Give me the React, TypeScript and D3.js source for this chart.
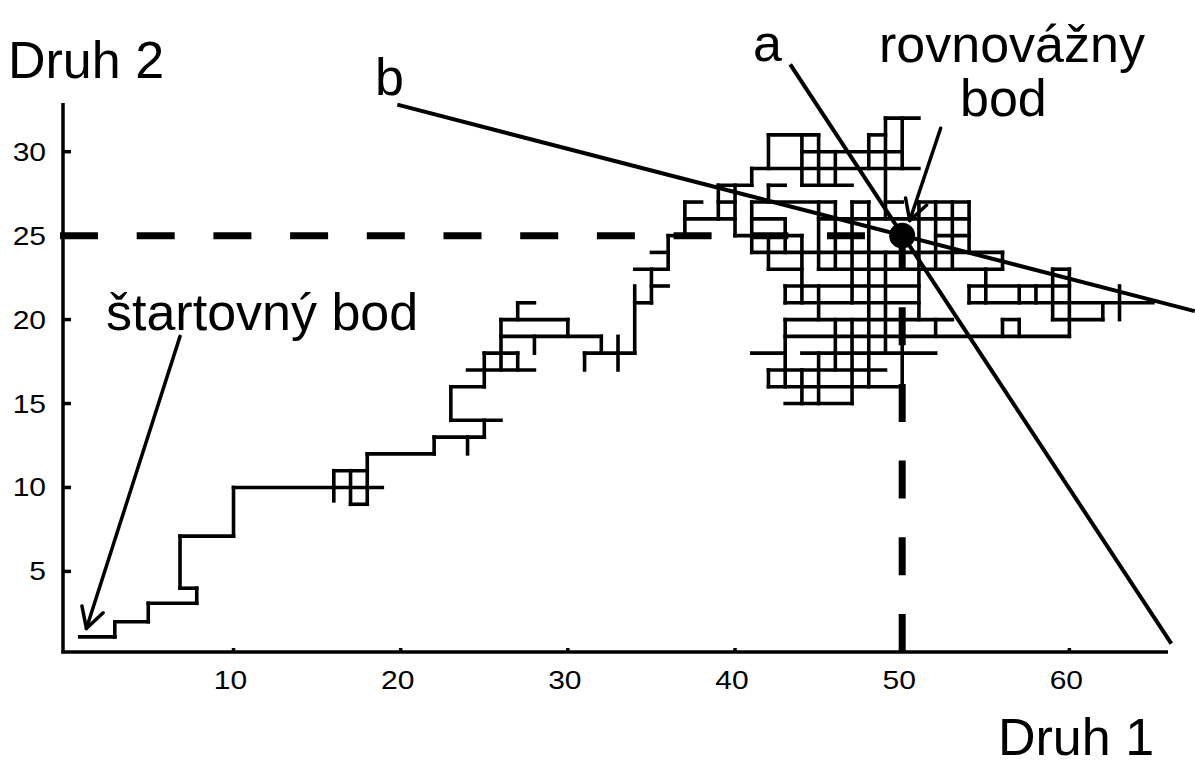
import React from 'react';
import * as d3 from 'd3';

const W = 1195;
const H = 767;

// axis domains (data units)
const xDomain: [number, number] = [-0.2, 65.9];
const yDomain: [number, number] = [0.2, 32.9];
const xTicks = [10, 20, 30, 40, 50, 60];
const yTicks = [5, 10, 15, 20, 25, 30];
const equilibrium: [number, number] = [50, 25];

// random walk: horizontal runs [y, x0, x1]
const walkH: number[][] = [
  [1.1, 0.8, 2.9], [2.0, 2.9, 4.9], [3.1, 4.9, 7.8], [4.0, 6.8, 7.8], [7.1, 6.8, 10],
  [10, 10, 18.9], [11, 16, 18], [9, 17, 18], [12, 18, 22], [13, 22, 25], [14, 23, 26],
  [16, 23, 25], [17, 24, 28], [18, 25, 27], [20, 26, 30], [19, 26, 32], [21, 27, 28],
  [18, 31, 34], [21, 34, 35], [22, 35, 36], [23, 34, 36], [24, 35, 36], [25, 36, 37],
  [26, 37, 40], [27, 37, 38],
  [32, 49, 51],
  [31, 42, 45], [31, 48, 49],
  [30, 44, 50],
  [29, 41, 51],
  [28, 39, 41], [28, 42, 43], [28, 44, 47],
  [27, 39, 40], [27, 41, 46], [27, 47, 48], [27, 49, 50], [27, 51, 54],
  [26, 41, 43], [26, 45, 54],
  [25, 40, 44], [25, 52, 54],
  [24, 41, 56],
  [23, 42, 44], [23, 45, 56], [23, 59, 60],
  [22, 43, 51], [22, 54, 60],
  [21, 43, 51], [21, 54, 65],
  [20, 43, 53], [20, 56, 57], [20, 59, 62],
  [19, 43, 60],
  [18, 41, 43], [18, 44, 52],
  [17, 42, 49],
  [16, 42, 50],
  [15, 43, 47],
];

// random walk: vertical runs [x, y0, y1]
const walkV: number[][] = [
  [2.9, 1.1, 2.0], [4.9, 2.0, 3.1], [7.8, 3.1, 4.0], [6.8, 4.0, 7.1], [10, 7.1, 10],
  [16, 9.2, 11], [17, 9, 11], [18, 9, 12], [22, 12, 13], [24, 12, 13], [25, 13, 14],
  [23, 14, 16], [25, 16, 18], [26, 17, 20], [27, 17, 18], [27, 20, 21], [28, 18, 19],
  [30, 19, 20], [32, 18, 19], [31, 17, 18], [33, 17, 19], [34, 18, 22], [35, 21, 23],
  [36, 23, 25], [37, 25, 27],
  [39, 26, 28], [40, 25, 28],
  [41, 28, 29], [41, 24, 27],
  [42, 29, 31], [42, 27, 28], [42, 23, 25], [42, 16, 17],
  [43, 24, 26], [43, 21, 22], [43, 16, 20],
  [44, 28, 31], [44, 21, 25], [44, 15, 17],
  [45, 28, 31], [45, 23, 27], [45, 20, 22], [45, 15, 18],
  [46, 28, 30], [46, 23, 27], [46, 17, 20],
  [47, 21, 27], [47, 15, 20],
  [48, 29, 31], [48, 16, 27],
  [49, 26, 32], [49, 18, 24],
  [50, 29, 32], [50, 16, 18.5],
  [51, 20, 27],
  [52, 23, 27], [52, 19, 20],
  [53, 23, 27],
  [54, 24, 27], [54, 21, 22],
  [55, 21, 23],
  [56, 23, 24], [56, 19, 20],
  [57, 19, 20], [57, 21, 22],
  [58, 21, 22],
  [59, 20, 23],
  [60, 19, 23],
  [62, 20, 21],
  [63, 20, 22],
];

// isoclines a and b (data endpoints)
const lineA: [number, number][] = [[43.3, 35.2], [66.1, 0.7]];
const lineB: [number, number][] = [[19.8, 32.8], [67.5, 20.5]];
// annotation arrows [from, to]
const startArrow: [number, number][] = [[6.8, 19.0], [1.2, 1.6]];
const eqArrow: [number, number][] = [[52.3, 31.4], [50.45, 25.9]];

const FONT = "'Liberation Sans', Arial, Helvetica, sans-serif";

function BigText({ x, y, children }: { x: number; y: number; children: string }) {
  return (
    <text x={x} y={y} fontFamily={FONT} fontSize={52} fill="#000">
      {children}
    </text>
  );
}

export default function App() {
  const xS = d3.scaleLinear().domain(xDomain).range([63, 1168]);
  const yS = d3.scaleLinear().domain(yDomain).range([652, 103]);

  const arrowHead = (from: [number, number], to: [number, number]) => {
    const x1 = xS(from[0]), y1 = yS(from[1]);
    const x2 = xS(to[0]), y2 = yS(to[1]);
    const ang = Math.atan2(y1 - y2, x1 - x2);
    const L = 23, a = (29 * Math.PI) / 180;
    const p1 = [x2 + L * Math.cos(ang + a), y2 + L * Math.sin(ang + a)];
    const p2 = [x2 + L * Math.cos(ang - a), y2 + L * Math.sin(ang - a)];
    return (
      <g stroke="#000" strokeWidth={3.5} fill="none" strokeLinecap="round" strokeLinejoin="round">
        <line x1={x1} y1={y1} x2={x2} y2={y2} />
        <polyline points={`${p1[0]},${p1[1]} ${x2},${y2} ${p2[0]},${p2[1]}`} />
      </g>
    );
  };

  const lineGen = d3.line<[number, number]>().x((d) => xS(d[0])).y((d) => yS(d[1]));

  return (
    <svg
      width={W}
      height={H}
      style={{ position: 'absolute', left: 0, top: 0, background: '#fff' }}
    >
      <rect width={W} height={H} fill="#fff" />

      {/* random walk */}
      <g stroke="#000" strokeWidth={3.6} strokeLinecap="square">
        {walkH.map((d, i) => (
          <line key={'h' + i} x1={xS(d[1])} x2={xS(d[2])} y1={yS(d[0])} y2={yS(d[0])} />
        ))}
        {walkV.map((d, i) => (
          <line key={'v' + i} x1={xS(d[0])} x2={xS(d[0])} y1={yS(d[1])} y2={yS(d[2])} />
        ))}
      </g>

      {/* dashed guides to equilibrium */}
      <g stroke="#000" strokeWidth={7} strokeDasharray="38 38.7" fill="none">
        <line x1={60} y1={yS(equilibrium[1])} x2={xS(equilibrium[0])} y2={yS(equilibrium[1])} />
        <line x1={xS(equilibrium[0])} y1={652} x2={xS(equilibrium[0])} y2={yS(equilibrium[1])} />
      </g>

      {/* isoclines */}
      <path d={lineGen(lineA) || ''} stroke="#000" strokeWidth={4} fill="none" />
      <path d={lineGen(lineB) || ''} stroke="#000" strokeWidth={4} fill="none" />

      {/* equilibrium point */}
      <circle cx={xS(equilibrium[0])} cy={yS(equilibrium[1])} r={13} fill="#000" />

      {/* arrows */}
      {arrowHead(startArrow[0], startArrow[1])}
      {arrowHead(eqArrow[0], eqArrow[1])}

      {/* axes */}
      <g stroke="#000" strokeWidth={3.5}>
        <line x1={63} y1={103} x2={63} y2={653.5} />
        <line x1={61.5} y1={652} x2={1168} y2={652} />
        {yTicks.map((t) => (
          <line key={'yt' + t} x1={63} x2={71} y1={yS(t)} y2={yS(t)} />
        ))}
        {xTicks.map((t) => (
          <line key={'xt' + t} x1={xS(t)} x2={xS(t)} y1={652} y2={648} />
        ))}
      </g>

      {/* tick labels */}
      <g fontFamily={FONT} fontSize={25} fill="#000">
        {yTicks.map((t) => (
          <text key={'yl' + t} transform={`translate(46,${yS(t) + 9}) scale(1.2,1)`} textAnchor="end">
            {t}
          </text>
        ))}
        {xTicks.map((t) => (
          <text key={'xl' + t} transform={`translate(${xS(t) - 3},689) scale(1.2,1)`} textAnchor="middle">
            {t}
          </text>
        ))}
      </g>

      {/* annotations */}
      <BigText x={8} y={78}>Druh 2</BigText>
      <BigText x={998} y={755}>Druh 1</BigText>
      <BigText x={375} y={95}>b</BigText>
      <BigText x={753} y={61}>a</BigText>
      <BigText x={879} y={62}>rovnovážny</BigText>
      <BigText x={960} y={116}>bod</BigText>
      <BigText x={106} y={330}>štartovný bod</BigText>
    </svg>
  );
}
